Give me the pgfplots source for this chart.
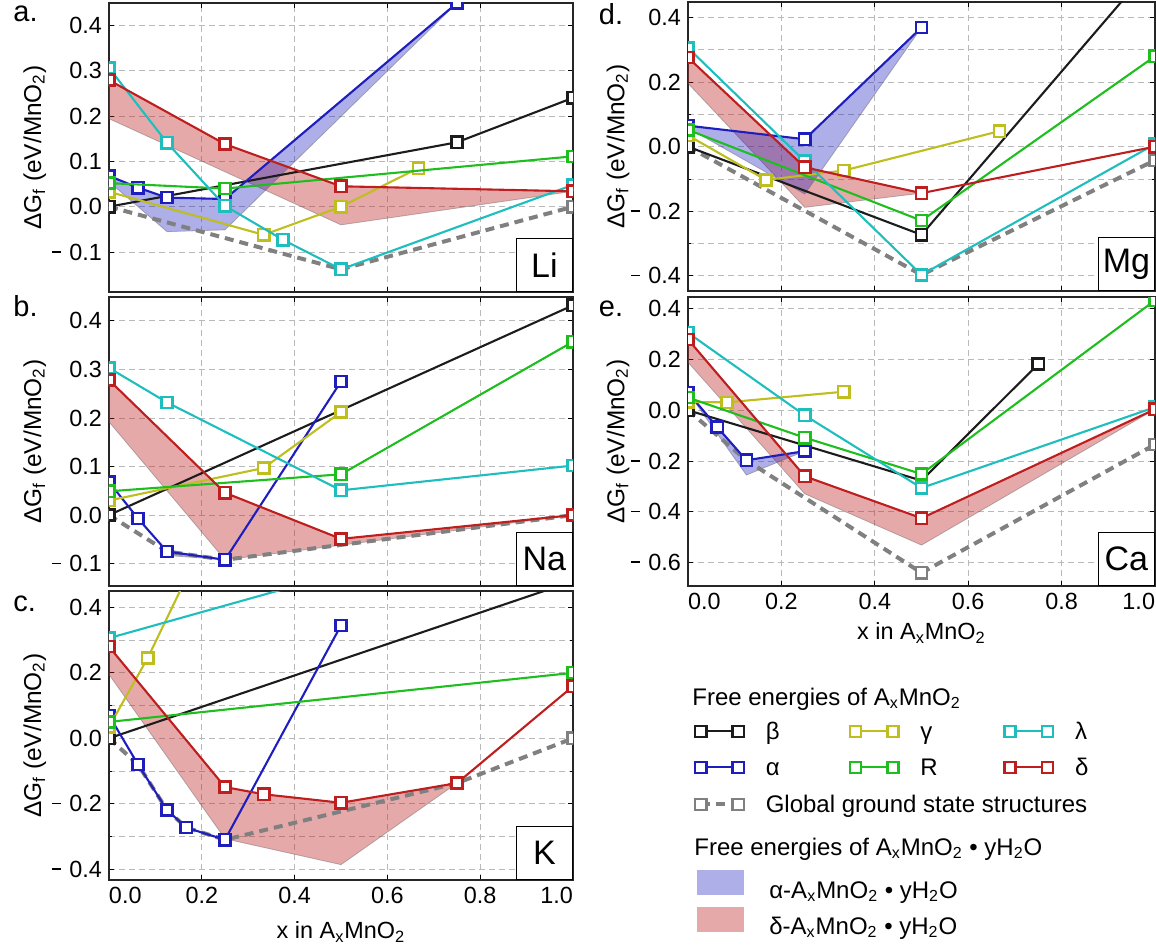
\documentclass[border=0pt]{standalone}
\usepackage{pgfplots}
\pgfplotsset{compat=1.18}
\usepackage{fontspec}
\setmainfont{Liberation Sans}
\definecolor{cbeta}{RGB}{28,28,28}
\definecolor{calpha}{RGB}{30,30,190}
\definecolor{cgamma}{RGB}{190,190,30}
\definecolor{clambda}{RGB}{30,190,190}
\definecolor{cR}{RGB}{30,190,30}
\definecolor{cdelta}{RGB}{190,30,30}
\definecolor{cgray}{RGB}{128,128,128}
\newcommand{\axfont}{\fontsize{11.7}{13}\selectfont}
\newcommand{\lgfont}{\fontsize{12}{14.4}\selectfont}
\newcommand{\mm}{\rule[3.8pt]{4.6pt}{0.8pt}\hspace{4.2pt}}
\newcommand{\elbox}[1]{\node[draw=black, fill=white, line width=0.6pt, anchor=south east, minimum width=28pt, minimum height=26.5pt, inner sep=0pt, font=\fontsize{17}{17}\selectfont] at (rel axis cs:1,0) {#1};}
\pgfplotsset{
  panel/.style={scale only axis, width=232pt, height=144.5pt, xmin=0, xmax=1,
    xtick={0,0.2,0.4,0.6,0.8,1},
    xmajorgrids, ymajorgrids,
    grid style={dash pattern=on 3pt off 2pt, gray!55, line width=0.4pt},
    minor grid style={dash pattern=on 3pt off 2pt, gray!55, line width=0.4pt},
    tick align=inside, major tick length=2.5pt, minor tick length=1.5pt,
    tick style={black, line width=0.4pt},
    axis line style={black!85, line width=0.7pt},
    ticklabel style={font=\axfont},
    label style={font=\axfont},
    clip marker paths=true,
    every axis y label/.style={at={(axis description cs:-0.16,0.5)}, rotate=90, anchor=center, font=\fontsize{12.2}{13}\selectfont},
    ylabel={ΔG\textsubscript{f} (eV/MnO\textsubscript{2})},
  },
  xfull/.style={xticklabels={{\makebox[0pt][l]{0.0}},0.2,0.4,0.6,0.8,{\makebox[0pt][r]{1.0}}},
    xlabel={x in A\textsubscript{x}MnO\textsubscript{2}}},
  xnone/.style={xticklabels={}},
  yA/.style={ytick={-0.1,0,0.1,0.2,0.3,0.4}, yticklabels={\mm0.1,0.0,0.1,0.2,0.3,0.4}},
  yC/.style={ytick={-0.4,-0.2,0,0.2,0.4}, yticklabels={\mm0.4,\mm0.2,0.0,0.2,0.4},
    minor ytick={-0.3,-0.1,0.1,0.3}, yminorgrids},
  rcol/.style={width=233.5pt, every axis y label/.style={at={(axis description cs:-0.15,0.5)}, rotate=90, anchor=center, font=\fontsize{12.2}{13}\selectfont}},
  ser/.style={#1, line width=1.05pt, mark=square*, mark size=2.8pt, mark options={solid, fill=white, line width=1.25pt}},
  gser/.style={cgray, line width=2pt, dash pattern=on 4.5pt off 3pt, mark=square*, mark size=2.8pt, mark options={solid, fill=white, line width=1.25pt}},
  afill/.style={fill=calpha, fill opacity=0.36, draw=black!60, draw opacity=0.45, line width=0.4pt},
  dfill/.style={fill=cdelta, fill opacity=0.38, draw=black!60, draw opacity=0.45, line width=0.4pt},
  legax/.style={hide axis, scale only axis, width=578pt, height=473.5pt, at={(0pt,-473.5pt)}, anchor=south west, xmin=0, xmax=1, ymin=0, ymax=1,
    legend cell align=left,
    legend style={anchor=west, draw=none, fill=none, inner sep=0pt, font=\lgfont, column sep=0pt, nodes={inner sep=0pt}}},
  lineleg/.style={legend image code/.code={\draw[##1] plot coordinates {(0pt,0pt) (18.75pt,0pt)};}},
  fillleg/.style={legend image code/.code={\fill[##1] (0pt,-3pt) rectangle (23.5pt,9.5pt);}},
}
\newcommand{\lt}[1]{\strut\hspace*{11pt}\makebox[42pt][l]{#1}}
\begin{document}
\begin{tikzpicture}
\useasboundingbox (0pt,0pt) rectangle (578pt,-473.5pt);
% ---------------- a. Li
\begin{axis}[panel, xnone, yA, at={(54.5pt,-1.5pt)}, anchor=north west, ymin=-0.188, ymax=0.449]
\addplot[dfill] coordinates {(0,0.279) (0.25,0.138) (0.5,0.045) (1,0.034) (0.5,-0.040) (0,0.194)} -- cycle;
\addplot[afill] coordinates {(0,0.068) (0.0625,0.042) (0.125,0.02) (0.25,0.017) (0.75,0.449) (0.25,-0.051) (0.125,-0.055) (0,0.055)} -- cycle;
\addplot[gser] coordinates {(0,0) (0.5,-0.138) (1,0)};
\addplot[ser=cbeta] coordinates {(0,0) (0.75,0.142) (1,0.24)};
\addplot[ser=calpha] coordinates {(0,0.068) (0.0625,0.042) (0.125,0.02) (0.25,0.017) (0.75,0.449)};
\addplot[ser=cgamma] coordinates {(0,0.033) (0.3333,-0.062) (0.5,0.0) (0.6667,0.085)};
\addplot[ser=cR] coordinates {(0,0.052) (0.25,0.04) (1,0.111)};
\addplot[ser=clambda] coordinates {(0,0.306) (0.125,0.141) (0.25,0.002) (0.375,-0.073) (0.5,-0.138) (1,0.048)};
\addplot[ser=cdelta] coordinates {(0,0.279) (0.25,0.138) (0.5,0.045) (1,0.034)};
\elbox{Li}
\end{axis}
% ---------------- b. Na
\begin{axis}[panel, xnone, yA, at={(54.5pt,-148.5pt)}, anchor=north west, ymin=-0.146, ymax=0.449]
\addplot[dfill] coordinates {(0,0.278) (0.25,0.046) (0.5,-0.049) (1,0) (0.5,-0.062) (0.25,-0.092) (0,0.192)} -- cycle;
\addplot[afill] coordinates {(0.125,-0.075) (0.25,-0.092) (0.125,-0.083)} -- cycle;
\addplot[gser] coordinates {(0,0) (0.125,-0.075) (0.25,-0.092) (1,0)};
\addplot[ser=cbeta] coordinates {(0,0) (1,0.432)};
\addplot[ser=calpha] coordinates {(0,0.068) (0.0625,-0.007) (0.125,-0.075) (0.25,-0.092) (0.5,0.275)};
\addplot[ser=cgamma] coordinates {(0,0.03) (0.3333,0.097) (0.5,0.212)};
\addplot[ser=cR] coordinates {(0,0.049) (0.5,0.084) (1,0.357)};
\addplot[ser=clambda] coordinates {(0,0.303) (0.125,0.232) (0.5,0.051) (1,0.102)};
\addplot[ser=cdelta] coordinates {(0,0.278) (0.25,0.046) (0.5,-0.049) (1,0)};
\elbox{Na}
\end{axis}
% ---------------- c. K
\begin{axis}[panel, xfull, yC, at={(54.5pt,-295.5pt)}, anchor=north west, ymin=-0.433, ymax=0.45,
  xlabel style={at={(axis description cs:0.5,-0.18)}, anchor=center}]
\addplot[dfill] coordinates {(0,0.28) (0.25,-0.149) (0.3333,-0.171) (0.5,-0.197) (0.75,-0.137) (0.5,-0.386) (0.25,-0.307) (0,0.195)} -- cycle;
\addplot[gser] coordinates {(0,0) (0.0625,-0.08) (0.125,-0.219) (0.1667,-0.273) (0.25,-0.31) (0.75,-0.137) (1,0)};
\addplot[ser=cbeta] coordinates {(0,0) (1,0.48)};
\addplot[ser=calpha] coordinates {(0,0.07) (0.0625,-0.08) (0.125,-0.219) (0.1667,-0.273) (0.25,-0.31) (0.5,0.345)};
\addplot[ser=cgamma] coordinates {(0,0.035) (0.0833,0.245) (0.1667,0.49)};
\addplot[ser=cR] coordinates {(0,0.05) (1,0.2)};
\addplot[ser=clambda] coordinates {(0,0.306) (0.5,0.505)};
\addplot[ser=cdelta] coordinates {(0,0.28) (0.25,-0.149) (0.3333,-0.171) (0.5,-0.197) (0.75,-0.137) (1,0.159)};
\elbox{K}
\end{axis}
% ---------------- d. Mg
\begin{axis}[panel, rcol, xnone, yC, at={(344pt,-1pt)}, anchor=north west, ymin=-0.447, ymax=0.448]
\addplot[dfill] coordinates {(0,0.276) (0.25,-0.064) (0.5,-0.144) (0.25,-0.188) (0,0.196)} -- cycle;
\addplot[afill] coordinates {(0,0.065) (0.25,0.023) (0.5,0.369) (0.25,-0.147) (0,0.058)} -- cycle;
\addplot[gser] coordinates {(0,0) (0.5,-0.397) (1,-0.042)};
\addplot[ser=cbeta] coordinates {(0,0) (0.5,-0.273) (1,0.57)};
\addplot[ser=calpha] coordinates {(0,0.065) (0.25,0.023) (0.5,0.369)};
\addplot[ser=cgamma] coordinates {(0,0.035) (0.1667,-0.103) (0.3333,-0.074) (0.6667,0.048)};
\addplot[ser=cR] coordinates {(0,0.052) (0.5,-0.229) (1,0.28)};
\addplot[ser=clambda] coordinates {(0,0.306) (0.25,-0.045) (0.5,-0.397) (1,0.008)};
\addplot[ser=cdelta] coordinates {(0,0.276) (0.25,-0.064) (0.5,-0.144) (1,0)};
\elbox{Mg}
\end{axis}
% ---------------- e. Ca
\begin{axis}[panel, rcol, xfull, at={(344pt,-148.5pt)}, anchor=north west, ymin=-0.692, ymax=0.446,
  ytick={-0.6,-0.4,-0.2,0,0.2,0.4}, yticklabels={\mm0.6,\mm0.4,\mm0.2,0.0,0.2,0.4},
  xlabel style={at={(axis description cs:0.5,-0.163)}, anchor=center}]
\addplot[dfill] coordinates {(0,0.279) (0.25,-0.26) (0.5,-0.425) (1,0.004) (0.5,-0.531) (0.25,-0.329) (0,0.189)} -- cycle;
\addplot[afill] coordinates {(0,0.07) (0.0625,-0.066) (0.125,-0.197) (0.25,-0.161) (0.125,-0.255)} -- cycle;
\addplot[gser] coordinates {(0,0) (0.125,-0.197) (0.5,-0.64) (1,-0.135)};
\addplot[ser=cbeta] coordinates {(0,0) (0.5,-0.277) (0.75,0.182)};
\addplot[ser=calpha] coordinates {(0,0.07) (0.0625,-0.066) (0.125,-0.197) (0.25,-0.161)};
\addplot[ser=cgamma] coordinates {(0,0.033) (0.0833,0.031) (0.3333,0.073)};
\addplot[ser=cR] coordinates {(0,0.05) (0.25,-0.108) (0.5,-0.251) (1,0.433)};
\addplot[ser=clambda] coordinates {(0,0.305) (0.25,-0.02) (0.5,-0.306) (1,0.012)};
\addplot[ser=cdelta] coordinates {(0,0.279) (0.25,-0.26) (0.5,-0.425) (1,0.004)};
\elbox{Ca}
\end{axis}
% ---------------- panel letters
\begin{scope}[every node/.style={anchor=base west, font=\fontsize{14.5}{15}\selectfont, inner sep=0pt}]
\node at (6.5pt,-10.85pt) {a.};
\node at (6.5pt,-158pt) {b.};
\node at (6.5pt,-305.85pt) {c.};
\node at (299.25pt,-12.15pt) {d.};
\node at (299.25pt,-158pt) {e.};
\end{scope}
% ---------------- legend
\node[anchor=base west, inner sep=0pt, font=\lgfont] at (346pt,-352.5pt) {Free energies of A\textsubscript{x}MnO\textsubscript{2}};
\node[anchor=base west, inner sep=0pt, font=\lgfont] at (347pt,-427.5pt) {Free energies of A\textsubscript{x}MnO\textsubscript{2} • yH\textsubscript{2}O};
\begin{axis}[legax, lineleg, legend columns=3, legend style={at={(0.6009,0.2277)}}]
\addlegendimage{ser=cbeta}\addlegendentry{\lt{β}}
\addlegendimage{ser=cgamma}\addlegendentry{\lt{γ}}
\addlegendimage{ser=clambda}\addlegendentry{\lt{λ}}
\end{axis}
\begin{axis}[legax, lineleg, legend columns=3, legend style={at={(0.6009,0.1897)}}]
\addlegendimage{ser=calpha}\addlegendentry{\lt{α}}
\addlegendimage{ser=cR}\addlegendentry{\lt{R}}
\addlegendimage{ser=cdelta}\addlegendentry{\lt{δ}}
\end{axis}
\begin{axis}[legax, lineleg, legend style={at={(0.6009,0.1506)}}]
\addlegendimage{gser}\addlegendentry{\lt{Global ground state structures}}
\end{axis}
\begin{axis}[legax, fillleg, legend style={at={(0.6029,0.0647)}}]
\addlegendimage{fill=calpha, fill opacity=0.36, draw=none}
\addlegendentry{\strut\hspace*{12.5pt}α-A\textsubscript{x}MnO\textsubscript{2} • yH\textsubscript{2}O}
\end{axis}
\begin{axis}[legax, fillleg, legend style={at={(0.6029,0.0266)}}]
\addlegendimage{fill=cdelta, fill opacity=0.38, draw=none}
\addlegendentry{\strut\hspace*{12.5pt}δ-A\textsubscript{x}MnO\textsubscript{2} • yH\textsubscript{2}O}
\end{axis}
\end{tikzpicture}
\end{document}
